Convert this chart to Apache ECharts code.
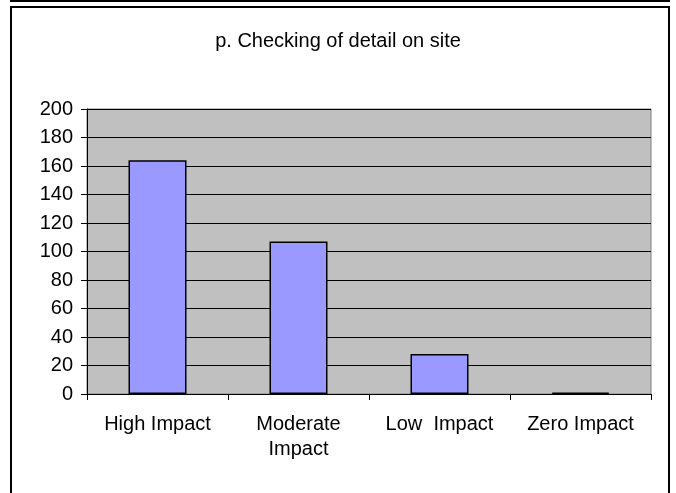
<!DOCTYPE html>
<html>
<head>
<meta charset="utf-8">
<script src="https://cdn.jsdelivr.net/npm/echarts@6/dist/echarts.min.js"></script>
<style>
html,body{margin:0;padding:0;background:#fff;}
#chart{width:676px;height:493px;}
</style>
</head>
<body>
<div id="chart"></div>
<script>
const title = "p. Checking of detail on site";
const categories = ["High Impact", "Moderate\nImpact", "Low  Impact", "Zero Impact"];
const values = [164, 107, 28, 1];
const yTicks = { min: 0, max: 200, interval: 20 };

const FONT = "'Liberation Sans', Arial, sans-serif";
const chart = echarts.init(document.getElementById('chart'), null, { renderer: 'canvas' });
chart.setOption({
  animation: false,
  backgroundColor: '#ffffff',
  title: {
    text: title,
    left: 'center',
    top: 26,
    textStyle: { fontFamily: FONT, fontSize: 20, fontWeight: 'normal', color: '#000' }
  },
  grid: {
    left: 87, right: 25, top: 109, bottom: 99,
    show: true, backgroundColor: '#C0C0C0', borderColor: '#808080', borderWidth: 1
  },
  xAxis: {
    type: 'category',
    data: categories,
    boundaryGap: true,
    axisLine: { lineStyle: { color: '#000', width: 1 } },
    axisTick: { show: true, alignWithLabel: false, length: 6, lineStyle: { color: '#000' } },
    axisLabel: { fontFamily: FONT, fontSize: 20, color: '#000', margin: 18, lineHeight: 25, interval: 0 }
  },
  yAxis: {
    type: 'value',
    min: yTicks.min, max: yTicks.max, interval: yTicks.interval,
    axisLine: { show: true, lineStyle: { color: '#000', width: 1 } },
    axisTick: { show: true, length: 6, lineStyle: { color: '#000' } },
    axisLabel: { fontFamily: FONT, fontSize: 20, color: '#000', margin: 14 },
    splitLine: { show: true, lineStyle: { color: '#000', width: 1 } }
  },
  series: [{
    type: 'bar',
    data: values,
    barWidth: 58,
    itemStyle: { color: '#9999FF', borderColor: '#000', borderWidth: 1.5 }
  }],
  graphic: [
    { type: 'rect', shape: { x: 11, y: 7, width: 658, height: 520 }, style: { fill: 'none', stroke: '#000', lineWidth: 2 }, silent: true },
    { type: 'rect', shape: { x: 11, y: -20, width: 658, height: 21 }, style: { fill: 'none', stroke: '#000', lineWidth: 2 }, silent: true }
  ]
});
</script>
</body>
</html>
